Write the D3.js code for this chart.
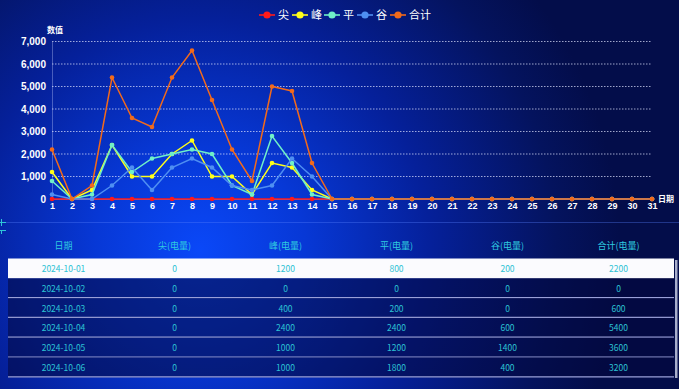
<!DOCTYPE html>
<html>
<head>
<meta charset="utf-8">
<script src="https://cdn.jsdelivr.net/npm/d3@7/dist/d3.min.js"></script>
<style>
html, body { margin: 0; padding: 0; background: #030d4a; overflow: hidden; }
svg { display: block; font-family: "Noto Sans CJK SC", "Noto Sans", sans-serif; }
</style>
</head>
<body>
<script>
// data
var days = [1,2,3,4,5,6,7,8,9,10,11,12,13,14,15,16,17,18,19,20,21,22,23,24,25,26,27,28,29,30,31];
var jian  = [0,0,0,0,0,0,0,0,0,0,0,0,0,0,0,0,0,0,0,0,0,0,0,0,0,0,0,0,0,0,0];
var feng  = [1200,0,400,2400,1000,1000,2000,2600,1000,1000,200,1600,1400,400,0,0,0,0,0,0,0,0,0,0,0,0,0,0,0,0,0];
var ping  = [800,0,200,2400,1200,1800,2000,2200,2000,600,200,2800,1600,200,0,0,0,0,0,0,0,0,0,0,0,0,0,0,0,0,0];
var gu    = [200,0,0,600,1400,400,1400,1800,1400,600,400,600,1800,1000,0,0,0,0,0,0,0,0,0,0,0,0,0,0,0,0,0];
var total = [2200,0,600,5400,3600,3200,5400,6600,4400,2200,800,5000,4800,1600,0,0,0,0,0,0,0,0,0,0,0,0,0,0,0,0,0];
var yTicks = [0,1000,2000,3000,4000,5000,6000,7000];
var dates = ["2024-10-01","2024-10-02","2024-10-03","2024-10-04","2024-10-05","2024-10-06"];
var headers = ["日期","尖(电量)","峰(电量)","平(电量)","谷(电量)","合计(电量)"];

var series = [
    {name: "尖", values: jian,  color: "#ff1a1a"},
    {name: "峰", values: feng,  color: "#ffff1a"},
    {name: "平", values: ping,  color: "#6ff0c8"},
    {name: "谷", values: gu,    color: "#4f8ff2"},
    {name: "合计", values: total, color: "#f26a1b"}
];

var width = 679, height = 389;

var svg = d3.select("body")
    .append("svg")
    .attr("width", width)
    .attr("height", height);

// background glow
var defs = svg.append("defs");
var glow = defs.append("radialGradient")
    .attr("id", "glow")
    .attr("gradientUnits", "userSpaceOnUse")
    .attr("cx", 200).attr("cy", 250).attr("r", 420);
glow.append("stop").attr("offset", "0").attr("stop-color", "#0a48f8");
glow.append("stop").attr("offset", "0.25").attr("stop-color", "#0738d6");
glow.append("stop").attr("offset", "0.55").attr("stop-color", "#05209a");
glow.append("stop").attr("offset", "0.85").attr("stop-color", "#04135e");
glow.append("stop").attr("offset", "1").attr("stop-color", "#030d4a");

svg.append("rect")
    .attr("width", width).attr("height", height)
    .attr("fill", "url(#glow)");

// scales
var xScale = d3.scalePoint()
    .domain(days)
    .range([52, 652]);

var yScale = d3.scaleLinear()
    .domain([0, 7000])
    .range([199, 41.5]);

// grid lines
svg.append("g")
    .selectAll("line")
    .data(yTicks.slice(1))
    .enter()
    .append("line")
    .attr("x1", 52).attr("x2", 652)
    .attr("y1", function(d) { return yScale(d); })
    .attr("y2", function(d) { return yScale(d); })
    .attr("stroke", "rgba(225,230,255,0.7)")
    .attr("stroke-width", 1)
    .attr("stroke-dasharray", "1.5,1.5");

// y axis
var yAxis = d3.axisLeft(yScale)
    .tickValues(yTicks)
    .tickFormat(d3.format(","))
    .tickSize(0)
    .tickPadding(6);

var gy = svg.append("g")
    .attr("transform", "translate(52,0)")
    .call(yAxis);
gy.select(".domain").attr("stroke", "rgba(200,210,255,0.35)");
gy.selectAll("text").attr("fill", "#ffffff").attr("font-size", 10).attr("font-weight", "bold");

// x axis
var xAxis = d3.axisBottom(xScale)
    .tickSize(0)
    .tickPadding(4);

var gx = svg.append("g")
    .attr("transform", "translate(0,199)")
    .call(xAxis);
gx.select(".domain").attr("stroke", "rgba(200,210,255,0.5)");
gx.selectAll("text").attr("fill", "#ffffff").attr("font-size", 9).attr("font-weight", "bold");

svg.append("text")
    .attr("x", 55).attr("y", 33)
    .attr("text-anchor", "middle")
    .attr("fill", "#ffffff")
    .attr("font-size", 8)
    .attr("font-weight", "bold")
    .text("数值");

svg.append("text")
    .attr("x", 658).attr("y", 202)
    .attr("fill", "#ffffff")
    .attr("font-size", 8)
    .attr("font-weight", "bold")
    .text("日期");

// lines
var line = d3.line()
    .x(function(d, i) { return xScale(days[i]); })
    .y(function(d) { return yScale(d); });

series.forEach(function(s) {
    var g = svg.append("g");
    g.append("path")
        .attr("d", line(s.values))
        .attr("fill", "none")
        .attr("stroke", s.color)
        .attr("stroke-width", 1.5);
    g.selectAll("circle")
        .data(s.values)
        .enter()
        .append("circle")
        .attr("cx", function(d, i) { return xScale(days[i]); })
        .attr("cy", function(d) { return yScale(d); })
        .attr("r", 2.3)
        .attr("fill", s.color);
});

// legend
var legendX = [267, 300, 332, 365, 398];
var legend = svg.append("g")
    .selectAll("g")
    .data(series)
    .enter()
    .append("g")
    .attr("transform", function(d, i) { return "translate(" + legendX[i] + ",15)"; });
legend.append("line")
    .attr("x1", -8).attr("x2", 8)
    .attr("stroke", function(d) { return d.color; })
    .attr("stroke-width", 1.6);
legend.append("circle")
    .attr("r", 3.6)
    .attr("fill", function(d) { return d.color; });
legend.append("text")
    .attr("x", 11).attr("y", 4)
    .attr("fill", "#ffffff")
    .attr("font-size", 11)
    .text(function(d) { return d.name; });

// decorations between chart and table
svg.append("line")
    .attr("x1", 0).attr("x2", width)
    .attr("y1", 222.5).attr("y2", 222.5)
    .attr("stroke", "rgba(90,130,255,0.35)");
svg.append("path")
    .attr("d", "M0,222.5H6M1.5,219V226M0,230.5H6M1.5,230.5V234")
    .attr("stroke", "#2fc6d8")
    .attr("fill", "none");

// table
var colW = 111, tableX = 8, rowH = 19.8, firstRow = 258.5;
var rows = dates.map(function(d, i) {
    return [d, jian[i], feng[i], ping[i], gu[i], total[i]];
});

svg.append("g")
    .selectAll("text")
    .data(headers)
    .enter()
    .append("text")
    .attr("x", function(d, i) { return tableX + colW * i + colW / 2; })
    .attr("y", 249)
    .attr("text-anchor", "middle")
    .attr("fill", "#2fcbe0")
    .attr("font-size", 9)
    .text(function(d) { return d; });

var rowG = svg.append("g")
    .selectAll("g")
    .data(rows)
    .enter()
    .append("g")
    .attr("transform", function(d, i) { return "translate(0," + (firstRow + rowH * i) + ")"; });

rowG.append("rect")
    .attr("x", tableX).attr("width", colW * 6)
    .attr("height", rowH)
    .attr("fill", function(d, i) { return i === 0 ? "#fbfbfe" : "rgba(3,8,60,0.55)"; });

rowG.filter(function(d, i) { return i > 0; })
    .append("line")
    .attr("x1", tableX).attr("x2", tableX + colW * 6)
    .attr("y1", rowH - 0.5).attr("y2", rowH - 0.5)
    .attr("stroke", "#9aa0d8")
    .attr("stroke-width", 1.2);

rowG.selectAll("text")
    .data(function(d) { return d; })
    .enter()
    .append("text")
    .attr("x", function(d, i) { return tableX + colW * i + colW / 2; })
    .attr("y", 13.5)
    .attr("text-anchor", "middle")
    .attr("fill", "#2cc2d4")
    .attr("font-size", 8.5)
    .text(function(d) { return d; });

// scrollbar
svg.append("rect")
    .attr("x", 675).attr("y", 260)
    .attr("width", 2.5).attr("height", 118)
    .attr("fill", "rgba(210,215,235,0.8)");
</script>
</body>
</html>
